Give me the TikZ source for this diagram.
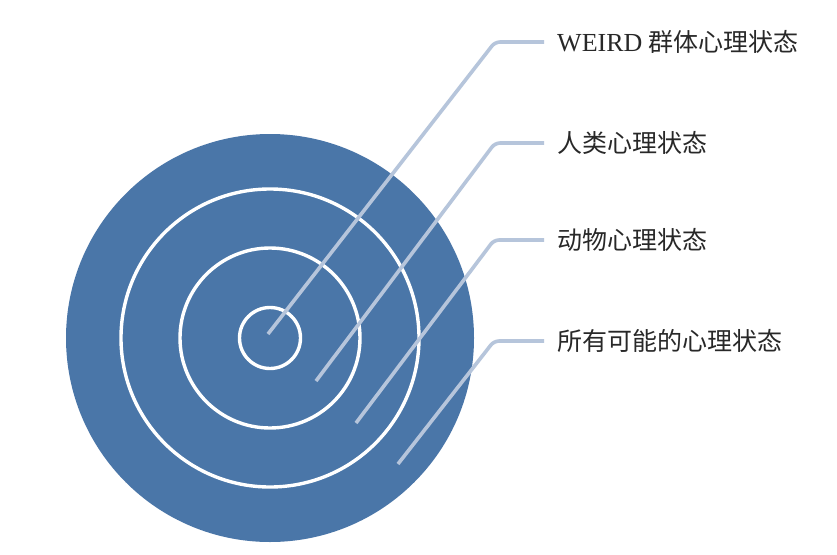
\documentclass[tikz,border=0pt]{standalone}
\usepackage{fontspec}
\newfontfamily\cjk{Noto Sans CJK SC}
\newfontfamily\latinserif{Liberation Serif}
\definecolor{diskblue}{RGB}{74,118,168}
\definecolor{leader}{RGB}{182,197,219}
\definecolor{labeltext}{RGB}{40,40,40}
\tikzset{
  ring/.style={draw=white, line width=3.4pt},
  leaderline/.style={draw=leader, line width=3.6pt, rounded corners=5pt},
  lab/.style={anchor=west, inner xsep=13pt, inner ysep=0pt, text=labeltext,
    font=\cjk\fontsize{25}{28}\selectfont},
}
\begin{document}
\begin{tikzpicture}[x=1pt,y=-1pt]
\useasboundingbox[fill=white] (0,0) rectangle (837,554);
% disk and rings
\fill[diskblue] (270,338) circle[radius=204];
\draw[ring] (270,338) circle[radius=149];
\draw[ring] (270,338) circle[radius=90];
\draw[ring] (270,338) circle[radius=30.5];
% labels
\node[lab] (l1) at (544,42) {{\latinserif\fontsize{26}{28}\selectfont WEIRD} 群体心理状态};
\node[lab] (l2) at (544,143) {人类心理状态};
\node[lab] (l3) at (544,240) {动物心理状态};
\node[lab] (l4) at (544,341) {所有可能的心理状态};
% leader coordinates
\coordinate (s1) at (268,334);
\coordinate (e1) at (495,42);
\coordinate (s2) at (316,381);
\coordinate (e2) at (495,143);
\coordinate (s3) at (356,423);
\coordinate (e3) at (494,240);
\coordinate (s4) at (398,464);
\coordinate (e4) at (494,341);
\draw[leaderline] (s1) -- (e1) -- (l1.west);
\draw[leaderline] (s2) -- (e2) -- (l2.west);
\draw[leaderline] (s3) -- (e3) -- (l3.west);
\draw[leaderline] (s4) -- (e4) -- (l4.west);
\end{tikzpicture}
\end{document}
